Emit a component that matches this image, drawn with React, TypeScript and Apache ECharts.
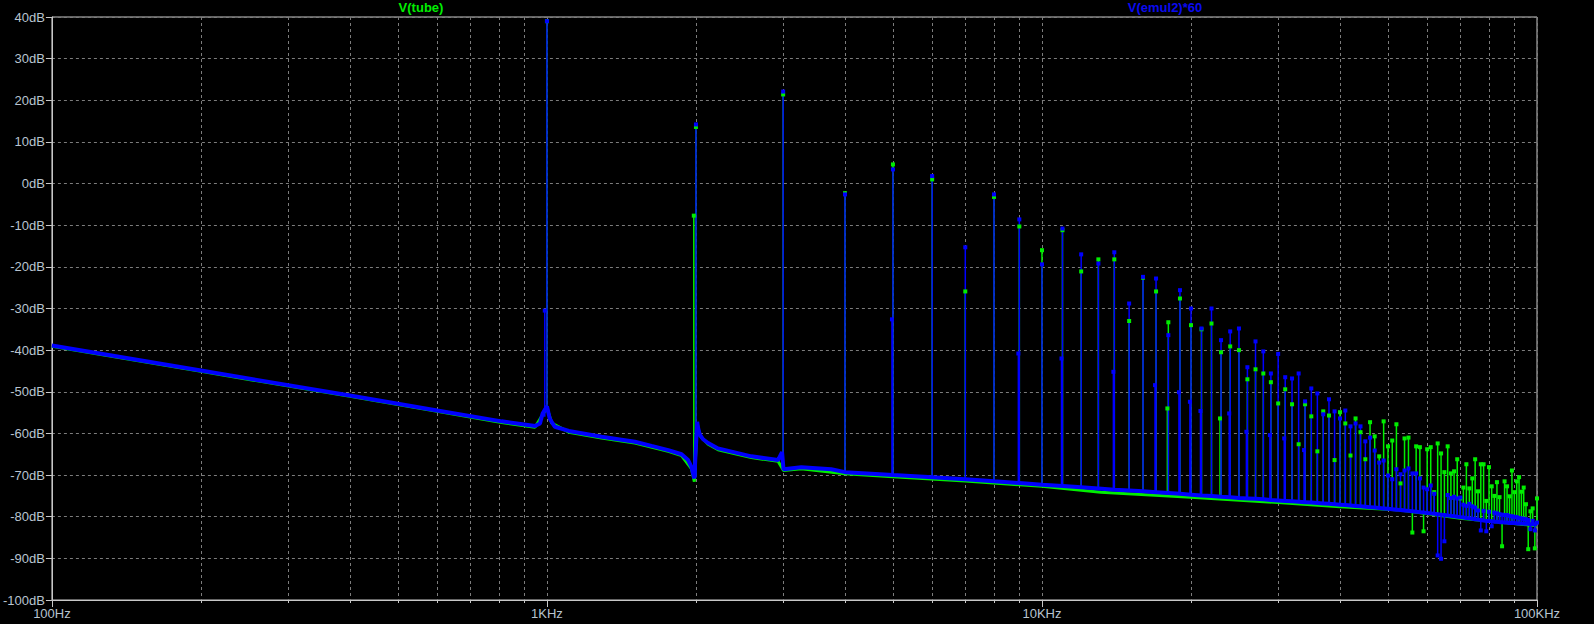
import React, { useEffect, useRef } from "react";
import * as echarts from "echarts";

// ---- axis ticks ----
const xTickValues = [100, 1000, 10000, 100000];
const xTickLabels = ["100Hz", "1KHz", "10KHz", "100KHz"];
const yMin = -100;
const yMax = 40;
const yStep = 10;

// ---- trace names ----
const traceNames = ["V(tube)", "V(emul2)*60"];

// ---- harmonics (kHz) ----
const harmonicKHz = [
  1, 2, 3, 4, 5, 6, 7, 8, 9, 10, 11, 12, 13, 14, 15, 16, 17, 18, 19, 20,
  21, 22, 23, 24, 25, 26, 27, 28, 29, 30, 31, 32, 33, 34, 35, 36, 37, 38, 39, 40,
  41, 42, 43, 44, 45, 46, 47, 48, 49, 50, 51, 52, 53, 54, 55, 56, 57, 58, 59, 60,
  61, 62, 63, 64, 65, 66, 67, 68, 69, 70, 71, 72, 73, 74, 75, 76, 77, 78, 79, 80,
  81, 82, 83, 84, 85, 86, 87, 88, 89, 90, 91, 92, 93, 94, 95, 96, 97, 98, 99, 100,
];

// peak levels (dB) of V(emul2)*60 (blue)
const bluePeakDb = [
  39.0, 14.2, 22.1, -2.6, 3.4, 1.8, -15.3, -2.6, -8.6, -19.4,
  -10.8, -17.0, -19.2, -16.5, -28.8, -22.4, -22.8, -36.4, -25.6, -30.0,
  -34.8, -30.0, -37.6, -35.5, -34.8, -44.1, -37.9, -40.3, -45.6, -40.9,
  -46.5, -46.8, -45.6, -52.3, -49.2, -50.4, -55.4, -51.8, -54.7, -56.4,
  -54.5, -58.3, -57.6, -58.3, -61.9, -61.0, -64.1, -67.0, -66.5, -70.1,
  -71.0, -68.6, -69.8, -68.9, -68.4, -69.6, -69.6, -70.8, -73.0, -73.4,
  -72.5, -74.5, -89.3, -90.1, -85.9, -74.8, -75.5, -75.2, -75.6, -75.4,
  -77.1, -77.4, -76.9, -77.5, -77.8, -78.5, -83.3, -78.6, -83.5, -78.8,
  -82.3, -79.0, -79.2, -79.4, -79.5, -79.6, -79.6, -79.8, -79.9, -80.0,
  -80.1, -80.3, -80.4, -80.5, -80.6, -80.8, -83.0, -81.0, -83.3, -81.4,
];

// peak levels (dB) of V(tube) (green)
const greenPeakDb = [
  39.0, 13.6, 21.4, -2.3, 4.6, 1.0, -25.9, -3.2, -10.3, -16.0,
  -11.2, -21.1, -18.2, -18.2, -33.0, -22.6, -25.9, -33.3, -27.6, -34.0,
  -35.0, -33.6, -40.5, -39.1, -40.0, -47.0, -44.6, -45.6, -47.7, -52.8,
  -49.4, -53.0, -62.6, -53.0, -55.9, -64.3, -54.7, -55.7, -66.4, -54.9,
  -57.6, -65.3, -56.4, -59.7, -66.2, -57.3, -60.7, -65.5, -57.1, -63.1,
  -61.7, -57.8, -72.0, -61.2, -61.0, -83.8, -63.1, -63.3, -83.5, -63.8,
  -63.3, -74.1, -62.4, -64.8, -69.3, -63.1, -69.6, -69.1, -66.2, -75.6,
  -73.0, -67.4, -73.2, -70.8, -66.2, -73.9, -67.4, -67.4, -76.2, -68.1,
  -72.7, -75.0, -71.7, -75.3, -87.1, -71.5, -72.7, -75.1, -68.9, -74.1,
  -71.5, -70.5, -74.0, -73.0, -77.0, -87.8, -78.7, -78.0, -87.6, -75.6,
];

// noise-floor level (dB) under each harmonic
const floorAtHarmonicDb = [
  -53.5, -70.5, -67.5, -69.3, -70.0, -70.5, -71.0, -71.5, -71.9, -72.3,
  -72.6, -72.9, -73.2, -73.5, -73.7, -73.9, -74.1, -74.3, -74.5, -74.7,
  -74.9, -75.0, -75.2, -75.3, -75.5, -75.6, -75.7, -75.8, -76.0, -76.1,
  -76.2, -76.3, -76.4, -76.5, -76.6, -76.7, -76.8, -76.9, -77.0, -77.1,
  -77.2, -77.3, -77.4, -77.5, -77.6, -77.7, -77.8, -77.9, -78.0, -78.1,
  -78.2, -78.3, -78.4, -78.5, -78.6, -78.7, -78.8, -78.9, -79.0, -79.1,
  -79.2, -79.3, -79.4, -79.5, -79.6, -79.7, -79.8, -79.9, -80.0, -80.1,
  -80.2, -80.3, -80.4, -80.5, -80.6, -80.7, -80.8, -80.9, -81.0, -81.0,
  -81.1, -81.2, -81.2, -81.3, -81.3, -81.4, -81.4, -81.5, -81.5, -81.5,
  -81.6, -81.6, -81.6, -81.7, -81.7, -81.7, -81.8, -81.8, -81.8, -81.8,
];

// low-frequency floor of the blue trace (below 4 kHz)
const blueFloorLowHz = [
  100, 200, 400, 600, 810, 946, 968, 980, 1000, 1013, 1022, 1038, 1107, 1289, 1505,
  1626, 1758, 1870, 1928, 1959, 1985, 2011, 2020, 2035, 2067, 2116, 2216, 2587, 2930,
  2985, 3005, 3264, 3752,
];
const blueFloorLowDb = [
  -38.9, -44.9, -50.9, -54.5, -57.1, -58.2, -57.6, -55.2, -53.5, -56.4, -57.2, -58.4, -59.4, -60.8, -62.0,
  -63.0, -64.0, -65.0, -66.4, -68.1, -70.8, -57.2, -58.7, -60.2, -61.4, -62.3, -63.6, -65.5, -66.4,
  -64.5, -68.6, -68.1, -68.6,
];

// floor of the green trace (its lower edge shows under the blue one)
const greenFloorHz = [
  100, 200, 400, 600, 810, 946, 980, 1000, 1022, 1107, 1289, 1505, 1758, 1870, 1959, 1985,
  2011, 2035, 2116, 2216, 2587, 2930, 3005, 3264, 4000, 5000, 7000, 10000, 13150, 20000,
  30000, 40000, 52950, 70000, 100000,
];
const greenFloorDb = [
  -39.1, -45.1, -51.1, -54.7, -57.4, -58.5, -55.5, -53.8, -57.5, -59.7, -61.1, -62.3, -64.3, -65.3, -68.5, -71.6,
  -57.6, -60.5, -62.6, -63.9, -65.8, -66.7, -68.9, -68.5, -69.7, -70.4, -71.4, -72.7, -74.1, -75.3,
  -76.6, -77.6, -78.4, -80.4, -82.2,
];

// secondary FFT bins next to the harmonics
const blueExtraHz = [990, 4977, 8960, 10950, 13940, 16920, 18910, 19900, 20900, 23890, 25880, 28870, 30860, 33840];
const blueExtraDb = [-30.5, -32.6, -40.8, -42.0, -45.2, -48.4, -50.1, -52.4, -54.6, -55.2, -59.6, -60.4, -61.2, -64.0];
const blueExtraBaseDb = [-56.0, -70.0, -71.9, -72.6, -73.5, -74.1, -74.5, -74.7, -74.9, -75.3, -75.6, -76.0, -76.2, -76.5];
const greenExtraHz = [1980, 17920, 22890];
const greenExtraDb = [-7.7, -54.0, -56.4];
const greenExtraBaseDb = [-70.0, -74.3, -75.2];

const BLUE = "#0000ff";
const GREEN = "#00ee00";
const FONT = "'Liberation Sans', Arial, sans-serif";

function spikeData(freqs: number[], peaks: number[], bases: number[]) {
  const out: any[] = [];
  freqs.forEach((f, i) => {
    out.push({ value: [f, bases[i]], symbol: "none" });
    out.push({ value: [f, peaks[i]] });
    out.push({ value: [f, "-"] });
  });
  return out;
}

export default function App() {
  const ref = useRef<HTMLDivElement>(null);

  useEffect(() => {
    if (!ref.current) return;
    const chart = echarts.init(ref.current, null, { renderer: "svg" });

    const hz = harmonicKHz.map((k) => k * 1000);
    const blueFloor: any[] = blueFloorLowHz.map((f, i) => [f, blueFloorLowDb[i]]);
    hz.forEach((f, i) => {
      if (f > 3752) blueFloor.push([f, floorAtHarmonicDb[i]]);
    });
    const greenFloor = greenFloorHz.map((f, i) => [f, greenFloorDb[i]]);

    const greenSpikes = spikeData(hz, greenPeakDb, floorAtHarmonicDb).concat(
      spikeData(greenExtraHz, greenExtraDb, greenExtraBaseDb)
    );
    const blueSpikes = spikeData(hz, bluePeakDb, floorAtHarmonicDb).concat(
      spikeData(blueExtraHz, blueExtraDb, blueExtraBaseDb)
    );

    const gridColor = "#7c7c7c";
    const axisColor = "#c8c8c8";
    const labelColor = "#b8c4d0";

    chart.setOption({
      animation: false,
      backgroundColor: "#000000",
      grid: {
        left: 49,
        right: 57,
        top: 17,
        bottom: 24,
        show: true,
        borderColor: axisColor,
        borderWidth: 1,
        backgroundColor: "transparent",
        containLabel: false,
      },
      graphic: [
        {
          type: "text",
          x: 421,
          y: 7,
          style: {
            text: traceNames[0],
            fill: GREEN,
            font: `bold 13px ${FONT}`,
            textAlign: "center",
            textVerticalAlign: "middle",
            align: "center",
            verticalAlign: "middle",
          },
        },
        {
          type: "text",
          x: 1165,
          y: 7,
          style: {
            text: traceNames[1],
            fill: "#0a0af0",
            font: `bold 13px ${FONT}`,
            textAlign: "center",
            textVerticalAlign: "middle",
            align: "center",
            verticalAlign: "middle",
          },
        },
      ],
      xAxis: {
        type: "log",
        logBase: 10,
        min: xTickValues[0],
        max: xTickValues[xTickValues.length - 1],
        axisLine: { show: true, onZero: false, lineStyle: { color: axisColor, width: 1 } },
        axisTick: { show: true, length: 7, lineStyle: { color: axisColor } },
        minorTick: { show: true, splitNumber: 9, length: 3, lineStyle: { color: axisColor } },
        splitLine: { show: true, lineStyle: { color: gridColor, type: [3, 3], width: 1 } },
        minorSplitLine: { show: true, lineStyle: { color: gridColor, type: [3, 3], width: 1 } },
        axisLabel: {
          color: labelColor,
          fontSize: 13,
          fontFamily: FONT,
          margin: 7,
          showMinLabel: true,
          showMaxLabel: true,
          formatter: (v: number) => {
            const idx = xTickValues.findIndex((t) => Math.abs(t - v) / t < 1e-6);
            return idx >= 0 ? xTickLabels[idx] : "";
          },
        },
      },
      yAxis: {
        type: "value",
        min: yMin,
        max: yMax,
        interval: yStep,
        axisLine: { show: true, onZero: false, lineStyle: { color: axisColor, width: 1 } },
        axisTick: { show: true, length: 6, lineStyle: { color: axisColor } },
        splitLine: { show: true, lineStyle: { color: gridColor, type: [3, 3], width: 1 } },
        axisLabel: {
          color: labelColor,
          fontSize: 13,
          fontFamily: FONT,
          margin: 7,
          formatter: (v: number) => `${v}dB`,
        },
      },
      series: [
        {
          name: "greenFloor",
          type: "line",
          data: greenFloor,
          symbol: "none",
          lineStyle: { color: GREEN, width: 3 },
          silent: true,
        },
        {
          name: traceNames[0],
          type: "line",
          data: greenSpikes,
          symbol: "rect",
          symbolSize: 4,
          showSymbol: true,
          connectNulls: false,
          itemStyle: { color: GREEN },
          lineStyle: { color: GREEN, width: 1.5 },
          silent: true,
        },
        {
          name: "blueFloor",
          type: "line",
          data: blueFloor,
          symbol: "none",
          lineStyle: { color: BLUE, width: 4 },
          silent: true,
        },
        {
          name: traceNames[1],
          type: "line",
          data: blueSpikes,
          symbol: "rect",
          symbolSize: 4,
          showSymbol: true,
          connectNulls: false,
          itemStyle: { color: BLUE },
          lineStyle: { color: BLUE, width: 1.5 },
          silent: true,
        },
      ],
    });

    return () => chart.dispose();
  }, []);

  return (
    <div
      ref={ref}
      style={{ position: "fixed", left: 0, top: 0, width: 1594, height: 624, background: "#000" }}
    />
  );
}
